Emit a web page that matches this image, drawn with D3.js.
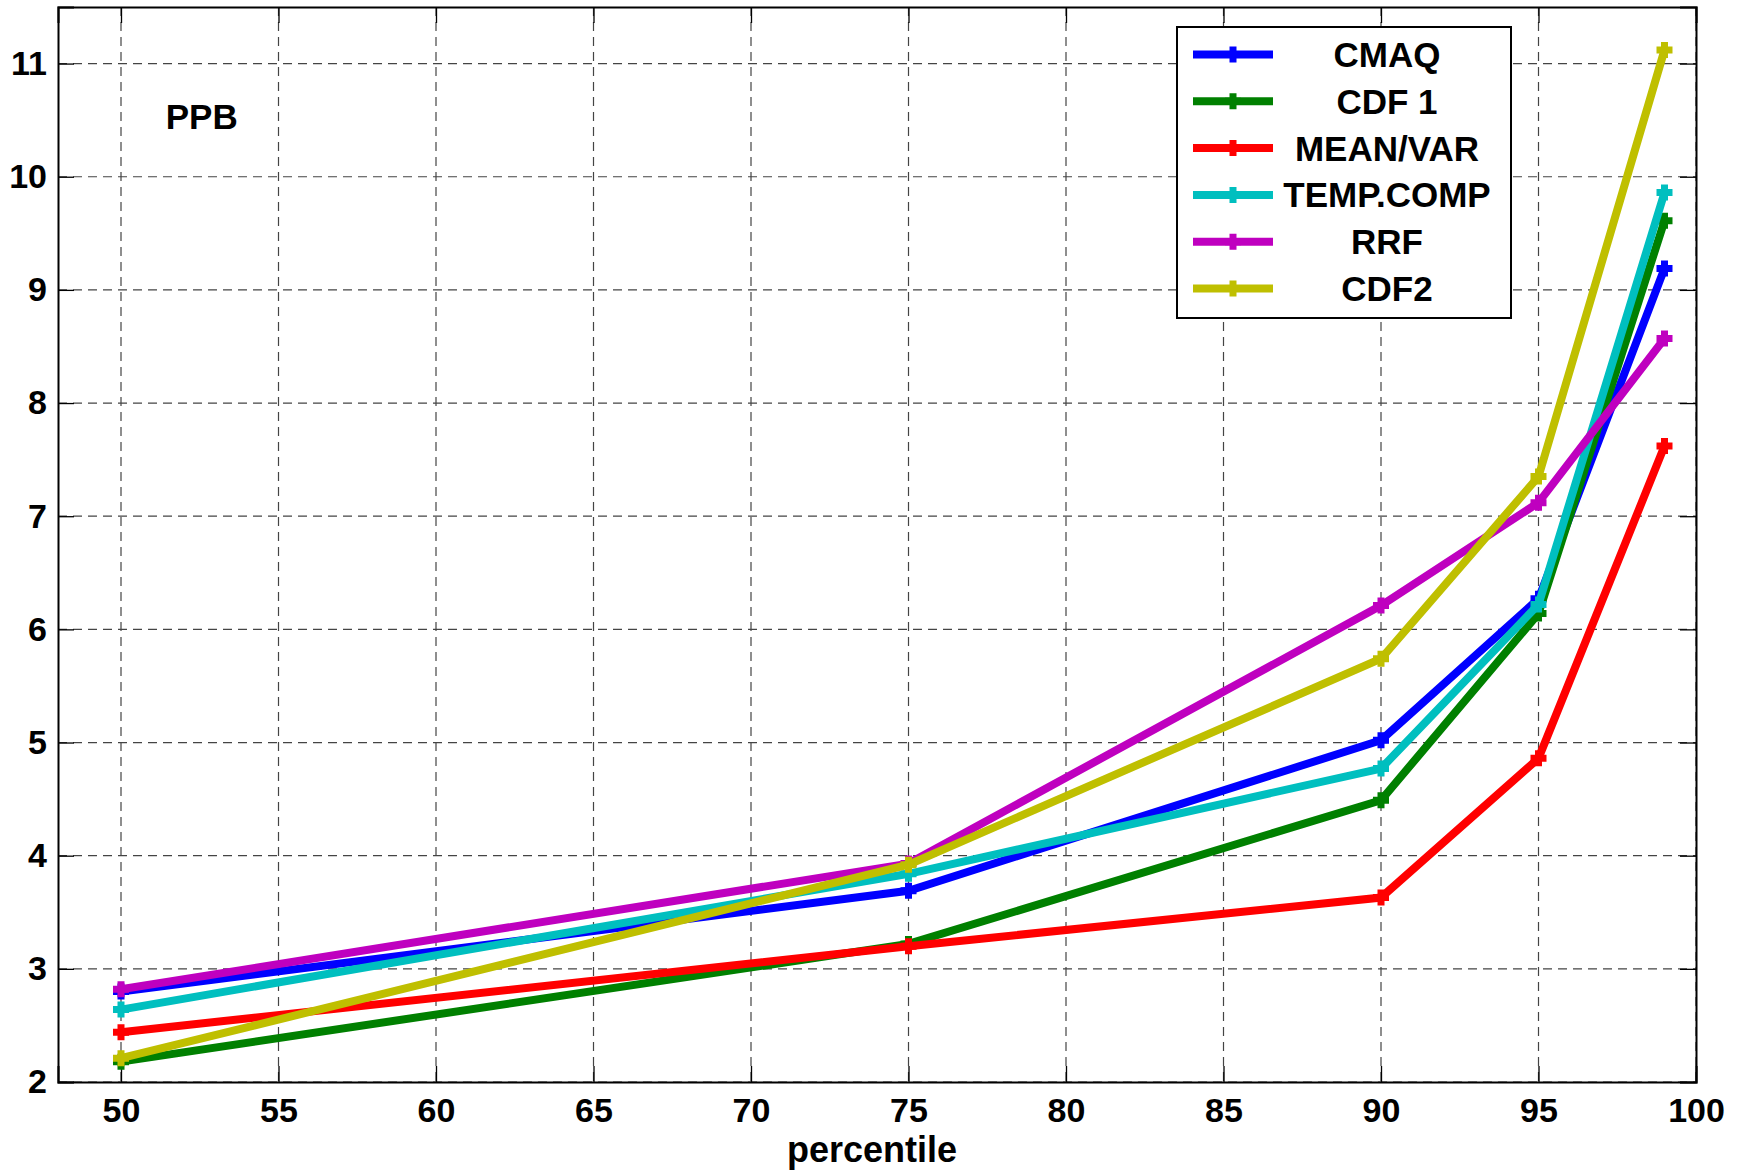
<!DOCTYPE html>
<html>
<head>
<meta charset="utf-8">
<script src="https://cdn.jsdelivr.net/npm/d3@7"></script>
<style>
  html, body { margin: 0; padding: 0; background: #fff; }
  svg { display: block; font-family: "Liberation Sans", Arial, Helvetica, sans-serif; font-weight: bold; }
</style>
</head>
<body>
<div id="chart"></div>
<script>
// percentile curves, six methods, 5 points each
const percentiles = [50, 75, 90, 95, 99];
const cmaq     = [2.80, 3.69, 5.02, 6.27, 9.19];
const cdf1     = [2.18, 3.22, 4.49, 6.14, 9.61];
const meanVar  = [2.44, 3.20, 3.63, 4.86, 7.62];
const tempComp = [2.64, 3.84, 4.77, 6.22, 9.86];
const rrf      = [2.82, 3.93, 6.21, 7.12, 8.57];
const cdf2     = [2.21, 3.92, 5.74, 7.35, 11.12];

const seriesNames = ["CMAQ", "CDF 1", "MEAN/VAR", "TEMP.COMP", "RRF", "CDF2"];
const seriesColors = ["#0000ff", "#008000", "#ff0000", "#00bfbf", "#bf00bf", "#bfbf00"];
const seriesValues = [cmaq, cdf1, meanVar, tempComp, rrf, cdf2];

const xTicks = d3.range(50, 101, 5);
const yTicks = d3.range(2, 12, 1);

const W = 1747, H = 1173;
const margin = { top: 7, right: 51, bottom: 91, left: 58 };
const iw = W - margin.left - margin.right, ih = H - margin.top - margin.bottom;

const svg = d3.select("#chart").append("svg").attr("width", W).attr("height", H);
const g = svg.append("g").attr("transform", `translate(${margin.left},${margin.top})`);

const x = d3.scaleLinear().domain([48, 100]).range([0, iw]);
const y = d3.scaleLinear().domain([2, 11.5]).range([ih, 0]);

// dashed grid
const grid = g.append("g").attr("stroke", "#444").attr("stroke-width", 1.2).attr("stroke-dasharray", "9,6");
grid.selectAll("line.gx").data(xTicks).join("line").attr("class", "gx")
  .attr("x1", d => x(d)).attr("x2", d => x(d)).attr("y1", 0).attr("y2", ih);
grid.selectAll("line.gy").data(yTicks).join("line").attr("class", "gy")
  .attr("x1", 0).attr("x2", iw).attr("y1", d => y(d)).attr("y2", d => y(d));

// axes with inward ticks on all four sides (box on)
const tk = 16;
const ax = g.append("g");
ax.append("g").attr("transform", `translate(0,${ih})`)
  .call(d3.axisBottom(x).tickValues(xTicks).tickSize(-tk).tickPadding(16).tickFormat(d3.format("d")));
ax.append("g").attr("transform", `translate(0,0)`)
  .call(d3.axisTop(x).tickValues(xTicks).tickSize(-tk).tickFormat(""));
ax.append("g")
  .call(d3.axisLeft(y).tickValues(yTicks).tickSize(-tk).tickPadding(11).tickFormat(d3.format("d")));
ax.append("g").attr("transform", `translate(${iw},0)`)
  .call(d3.axisRight(y).tickValues(yTicks).tickSize(-tk).tickFormat(""));
ax.selectAll(".domain").attr("stroke", "#000").attr("stroke-width", 2);
ax.selectAll(".tick line").attr("stroke", "#000").attr("stroke-width", 1.3);
ax.selectAll(".tick text").attr("fill", "#000").attr("font-weight", "bold")
  .attr("font-size", 34).attr("font-family", '"Liberation Sans", Arial, sans-serif');

// x label
g.append("text").attr("x", iw / 2 - 5).attr("y", ih + 80).attr("text-anchor", "middle")
  .attr("font-size", 36).text("percentile");

// PPB annotation
g.append("text").attr("x", x(51.42)).attr("y", y(10.53)).attr("dominant-baseline", "central")
  .attr("font-size", 35).text("PPB");

const plusPath = (s) => `M${-s},0H${s}M0,${-s}V${s}`;
const line = d3.line().x((d, i) => x(percentiles[i])).y(d => y(d));

seriesValues.forEach((vals, k) => {
  const sg = g.append("g");
  sg.append("path").attr("d", line(vals)).attr("fill", "none")
    .attr("stroke", seriesColors[k]).attr("stroke-width", 8).attr("stroke-linejoin", "miter");
  sg.selectAll("path.m").data(vals).join("path").attr("class", "m")
    .attr("transform", (d, i) => `translate(${x(percentiles[i])},${y(d)})`)
    .attr("d", plusPath(8)).attr("fill", "none")
    .attr("stroke", seriesColors[k]).attr("stroke-width", 7);
});

// legend
const lg = svg.append("g").attr("transform", "translate(1177,27)");
lg.append("rect").attr("width", 334).attr("height", 291).attr("fill", "#fff")
  .attr("stroke", "#000").attr("stroke-width", 2);
const rowY = (i) => 27.5 + i * 46.8;
seriesNames.forEach((name, i) => {
  const r = lg.append("g").attr("transform", `translate(0,${rowY(i)})`);
  r.append("line").attr("x1", 16).attr("x2", 96).attr("stroke", seriesColors[i]).attr("stroke-width", 8);
  r.append("path").attr("transform", "translate(56,0)").attr("d", plusPath(8))
    .attr("fill", "none").attr("stroke", seriesColors[i]).attr("stroke-width", 7);
  r.append("text").attr("x", 210).attr("y", 0).attr("dominant-baseline", "central")
    .attr("text-anchor", "middle").attr("font-size", 35).text(name);
});
</script>
</body>
</html>
